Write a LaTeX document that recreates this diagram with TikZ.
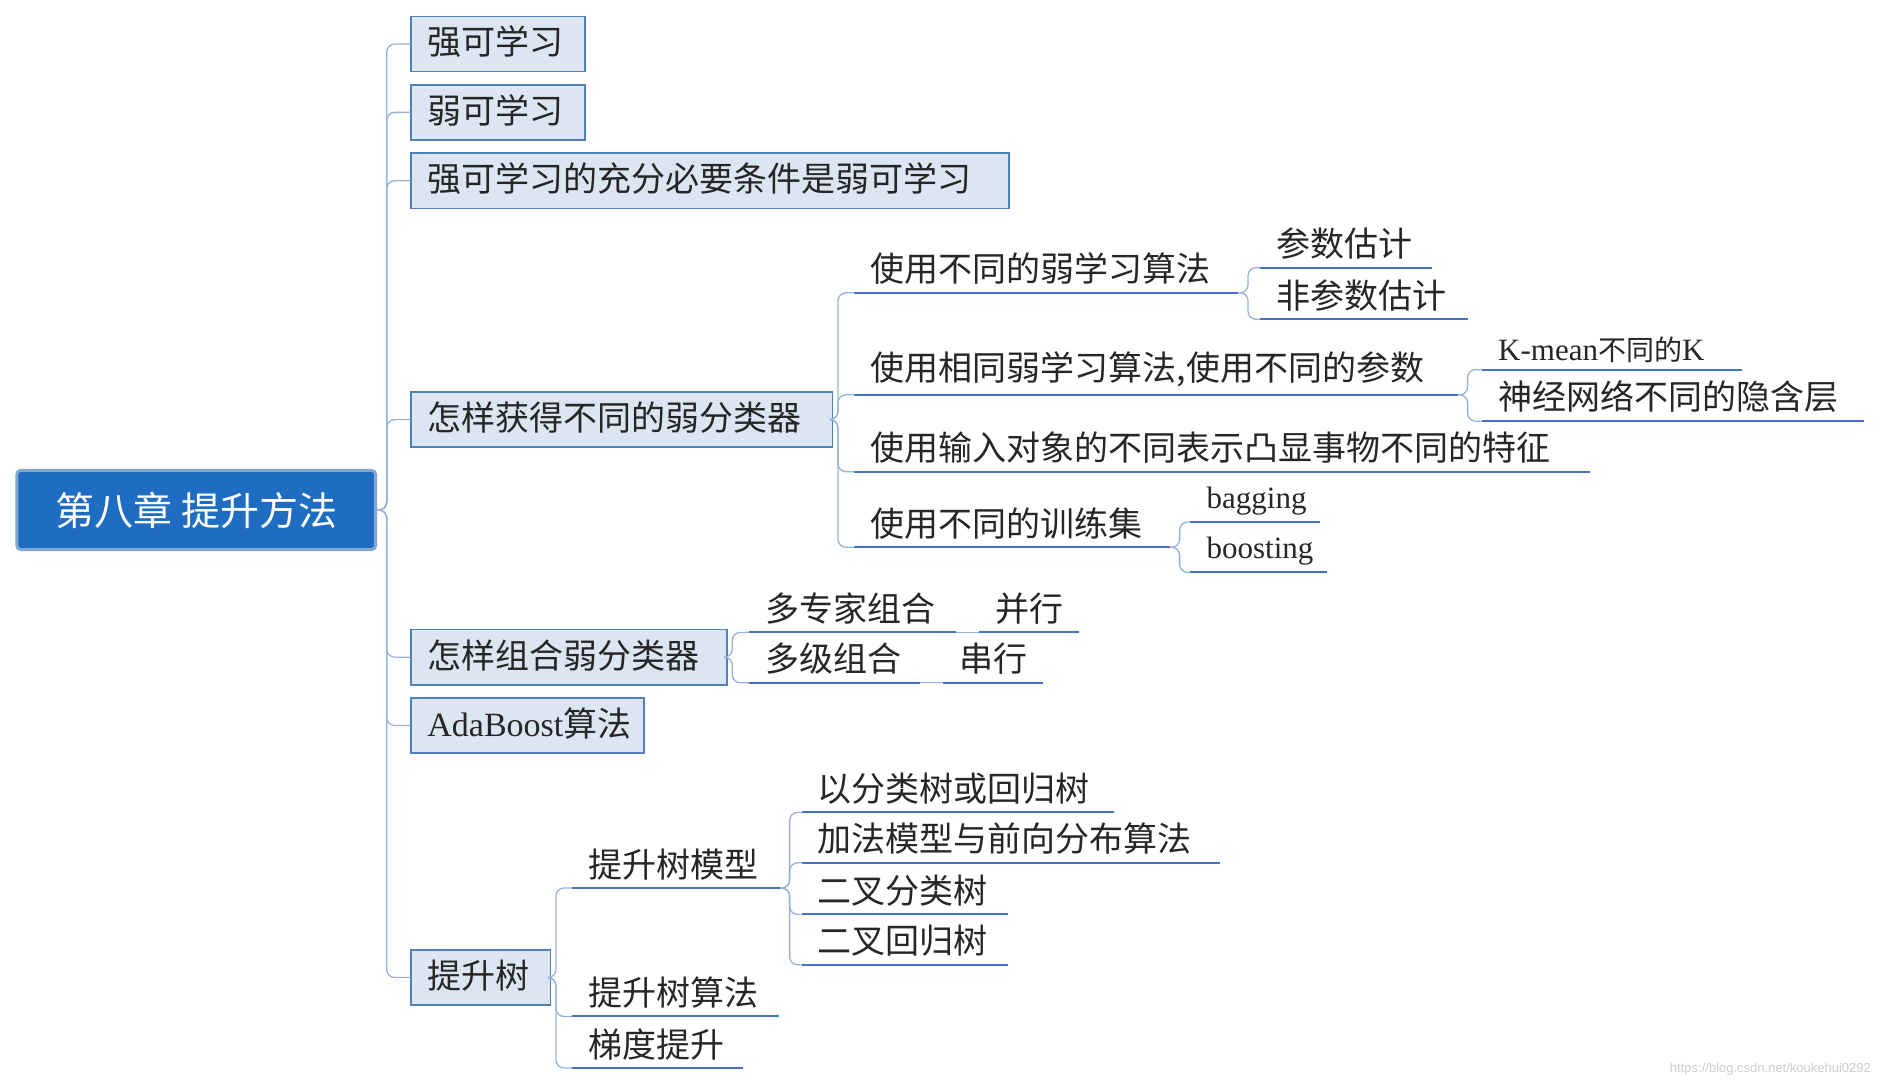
\documentclass[tikz,border=0pt]{standalone}
\usepackage{fontspec}
\setmainfont{Noto Sans CJK SC}
\newfontfamily\lat{Liberation Serif}
\newfontfamily\cjk{Noto Sans CJK SC}
\newfontfamily\wm{Liberation Sans}
\definecolor{bfill}{HTML}{DCE6F2}
\definecolor{bdraw}{HTML}{4F81BD}
\definecolor{ulc}{HTML}{4472C4}
\definecolor{cc}{HTML}{95B3D7}
\definecolor{rootc}{HTML}{1F6DC2}
\begin{document}
\begin{tikzpicture}[x=1.2pt,y=-1.2pt,
  box/.style={draw=bdraw,line width=1.5pt,fill=bfill,anchor=north west,inner xsep=0pt,minimum height=46*1.2pt,font=\fontsize{34}{38}\selectfont,text=black!85},
  conn/.style={draw=cc,line width=1.3pt,rounded corners=8pt},
  ulline/.style={draw=ulc,line width=2pt},
  txt/.style={anchor=south west,inner xsep=4pt,inner ysep=8pt,font=\fontsize{34}{38}\selectfont,text=black!85},
  stxt/.style={anchor=south west,inner xsep=4pt,inner ysep=7pt,font=\fontsize{31}{35}\selectfont\lat,text=black!85}]
\useasboundingbox (0,0) rectangle (1565.8,902.5);
\newcommand\ul[6][txt]{%
  \coordinate (#2-l) at (#3,#5); \coordinate (#2-r) at (#4,#5);
  \draw[ulline] (#2-l)--(#2-r);
  \node[#1] (#2) at ([xshift=10*1.2pt]#2-l) {#6};}
\newcommand\bx[6]{%
  \node[box,minimum width=#4*1.2pt] (#1) at (#2,#3) {};
  \node[anchor=west,inner sep=0pt,font=\fontsize{34}{38}\selectfont,text=black!85] (#1t) at ([xshift=14*1.2pt,yshift=2pt]#1.west) {#6};}
% root
\node[draw=bdraw!70,line width=3pt,fill=rootc,rounded corners=4pt,minimum width=299*1.2pt,minimum height=66*1.2pt,text=white,font=\fontsize{39}{42}\selectfont] (root) at (163.5,425) {第八章 提升方法};
% level 1
\bx{a1}{342}{13}{145}{}{强可学习}
\bx{a2}{342}{70}{145}{}{弱可学习}
\bx{a3}{342}{127}{498}{}{强可学习的充分必要条件是弱可学习}
\bx{a4}{342}{326}{351}{}{怎样获得不同的弱分类器}
\bx{a5}{342}{524}{263}{}{怎样组合弱分类器}
\bx{a6}{342}{581}{194}{}{{\lat AdaBoost}算法}
\bx{a7}{342}{791}{116}{}{提升树}
\foreach \n in {a1,a2,a3,a4,a5,a6,a7}
  \draw[conn] (root.east) -- ++(8,0) |- (\n.west);
% under a4
\ul{b1}{712}{1032}{244}{使用不同的弱学习算法}
\ul{b2}{712}{1215}{329}{使用相同弱学习算法,使用不同的参数}
\ul{b3}{712}{1325}{393}{使用输入对象的不同表示凸显事物不同的特征}
\ul{b4}{712}{975}{456}{使用不同的训练集}
\foreach \n in {b1,b2,b3,b4}
  \draw[conn] (a4.east) -- ++(4,0) |- (\n-l);
\ul{c1}{1050}{1193}{223}{参数估计}
\ul{c2}{1050}{1223}{266}{非参数估计}
\foreach \n in {c1,c2} \draw[conn] (b1-r) -- ++(8,0) |- (\n-l);
\ul[stxt]{d1}{1235}{1452}{308}{K-mean{\cjk\fontsize{28}{32}\selectfont 不同的}K}
\ul{d2}{1235}{1553}{351}{神经网络不同的隐含层}
\foreach \n in {d1,d2} \draw[conn] (b2-r) -- ++(8,0) |- (\n-l);
\ul[stxt]{e1}{992}{1100}{435}{bagging}
\ul[stxt]{e2}{992}{1106}{477}{boosting}
\foreach \n in {e1,e2} \draw[conn] (b4-r) -- ++(8,0) |- (\n-l);
% under a5
\ul{f1}{624}{797}{527}{多专家组合}
\ul{f2}{624}{767}{569}{多级组合}
\foreach \n in {f1,f2} \draw[conn] (a5.east) -- ++(4,0) |- (\n-l);
\ul{g1}{816}{899}{527}{并行}
\ul{g2}{786}{869}{569}{串行}
\draw[conn] (f1-r)--(g1-l);
\draw[conn] (f2-r)--(g2-l);
% under a7
\ul{h1}{477}{650}{740}{提升树模型}
\ul{h2}{477}{649}{847}{提升树算法}
\ul{h3}{477}{619}{890}{梯度提升}
\foreach \n in {h1,h2,h3} \draw[conn] (a7.east) -- ++(4,0) |- (\n-l);
\ul{i1}{668}{928}{677}{以分类树或回归树}
\ul{i2}{668}{1017}{719}{加法模型与前向分布算法}
\ul{i3}{668}{840}{762}{二叉分类树}
\ul{i4}{668}{840}{804}{二叉回归树}
\foreach \n in {i1,i2,i3,i4} \draw[conn] (h1-r) -- ++(8,0) |- (\n-l);
\node[anchor=south east,font=\wm\fontsize{13}{15}\selectfont,text=black!20] (wm) at (1562,899) {https://blog.csdn.net/koukehui0292};
\end{tikzpicture}
\end{document}
